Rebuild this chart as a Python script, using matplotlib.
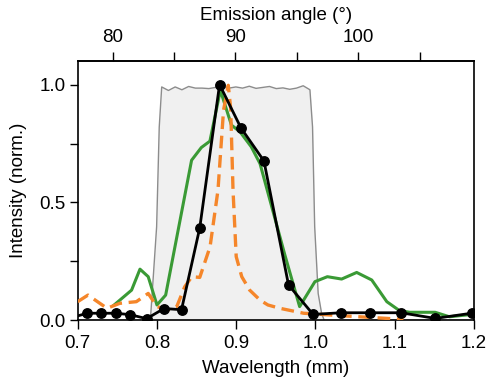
import matplotlib
matplotlib.use("Agg")
import matplotlib.pyplot as plt
import numpy as np
from matplotlib.ticker import MultipleLocator

plt.rcParams['font.family'] = ['Liberation Sans', 'DejaVu Sans']

# Reference (gray) transmission band
gray_x = [0.700, 0.789, 0.792, 0.7996, 0.8029, 0.806, 0.8145, 0.823, 0.8315, 0.840,
          0.8485, 0.857, 0.8655, 0.874, 0.8825, 0.891, 0.8995, 0.908, 0.9165, 0.925,
          0.9335, 0.942, 0.9505, 0.959, 0.9675, 0.976, 0.9845, 0.993, 0.9963, 0.999,
          1.0034, 1.0077, 1.011, 1.200]
gray_y = [0.0, 0.0, 0.015, 0.397, 0.82, 0.99, 0.975, 0.99, 0.978, 0.992,
          0.985, 0.985, 0.983, 0.988, 0.99, 0.985, 0.99, 0.985, 0.993, 0.984,
          0.988, 0.992, 0.983, 0.986, 0.98, 0.985, 0.995, 0.978, 0.82, 0.397,
          0.114, 0.03, 0.0, 0.0]

# Green series
green_x = [0.746, 0.768, 0.7786, 0.789, 0.800, 0.811, 0.8437, 0.856, 0.8668, 0.880,
           0.894, 0.9047, 0.919, 0.930, 0.9614, 0.980, 0.9993, 1.015, 1.033, 1.052,
           1.071, 1.090, 1.106, 1.119, 1.151, 1.169, 1.197]
green_y = [0.065, 0.128, 0.217, 0.185, 0.065, 0.107, 0.679, 0.733, 0.760, 0.976,
           0.828, 0.800, 0.736, 0.665, 0.277, 0.058, 0.164, 0.185, 0.175, 0.203,
           0.171, 0.079, 0.041, 0.034, 0.034, 0.015, 0.025]

# Orange dashed series
orange_x = [0.700, 0.713, 0.737, 0.753, 0.774, 0.789, 0.800, 0.814, 0.825, 0.835,
            0.844, 0.854, 0.867, 0.877, 0.884, 0.890, 0.893, 0.896, 0.900, 0.907,
            0.917, 0.930, 0.940, 0.955, 0.985, 1.030, 1.070, 1.111]
orange_y = [0.079, 0.107, 0.051, 0.072, 0.079, 0.114, 0.058, 0.044, 0.058, 0.142,
            0.185, 0.182, 0.312, 0.552, 0.891, 0.997, 0.90, 0.55, 0.27, 0.185,
            0.128, 0.086, 0.065, 0.051, 0.030, 0.020, 0.012, 0.004]

# Black measured points
black_x = [0.693, 0.712, 0.729, 0.748, 0.766, 0.787, 0.809, 0.831, 0.854, 0.879,
           0.906, 0.935, 0.966, 0.997, 1.032, 1.069, 1.108, 1.151, 1.197]
black_y = [0.012, 0.030, 0.030, 0.030, 0.024, 0.007, 0.050, 0.045, 0.392, 1.000,
           0.816, 0.676, 0.150, 0.025, 0.032, 0.032, 0.032, 0.008, 0.030]

x_ticks = [0.7, 0.8, 0.9, 1.0, 1.1, 1.2]
y_ticks = [0.0, 0.5, 1.0]
top_ticks = [80, 90, 100]

FS = 13.5

fig = plt.figure(figsize=(4.91, 3.83), dpi=100)
ax = fig.add_axes([0.1582, 0.1637, 0.8072, 0.6770])

ax.fill_between(gray_x, gray_y, 0, color='#f0f0f0', lw=0, zorder=1)
ax.plot(gray_x, gray_y, color='#8c8c8c', lw=1.0, zorder=2)
ax.plot(green_x, green_y, color='#3a9a35', lw=2.2, zorder=3)
ax.plot(orange_x, orange_y, color='#f5862a', lw=2.4, ls=(0, (3.8, 2.0)), zorder=4)
ax.plot(black_x, black_y, color='black', lw=2.0, marker='o', ms=6.8, zorder=5)

ax.set_xlim(0.7, 1.2)
ax.set_ylim(0.0, 1.1)
ax.set_xticks(x_ticks)
ax.set_xticklabels([f"{v:.1f}" for v in x_ticks])
ax.set_yticks(y_ticks)
ax.set_yticklabels([f"{v:.1f}" for v in y_ticks])
ax.yaxis.set_minor_locator(MultipleLocator(0.25))
ax.set_xlabel("Wavelength (mm)", fontsize=FS, labelpad=6)
ax.set_ylabel("Intensity (norm.)", fontsize=FS, labelpad=9)

ax.tick_params(axis='x', which='both', direction='out', length=6.5, width=1,
               labelsize=FS, pad=4)
ax.tick_params(axis='y', which='both', direction='out', length=5.5, width=1,
               labelsize=FS, pad=3)
for s in ax.spines.values():
    s.set_linewidth(1.2)

def w2a(w):
    return 77.15 + (np.asarray(w) - 0.7) * 64.54

def a2w(a):
    return 0.7 + (np.asarray(a) - 77.15) / 64.54

sec = ax.secondary_xaxis('top', functions=(w2a, a2w))
sec.set_xticks(top_ticks)
sec.xaxis.set_minor_locator(MultipleLocator(5))
sec.tick_params(axis='x', which='both', direction='out', length=6.5, width=1,
                labelsize=FS, pad=4)
sec.set_xlabel("Emission angle (°)", fontsize=FS, labelpad=7)
sec.spines['top'].set_linewidth(1.2)

fig.savefig("out.png", dpi=100)
